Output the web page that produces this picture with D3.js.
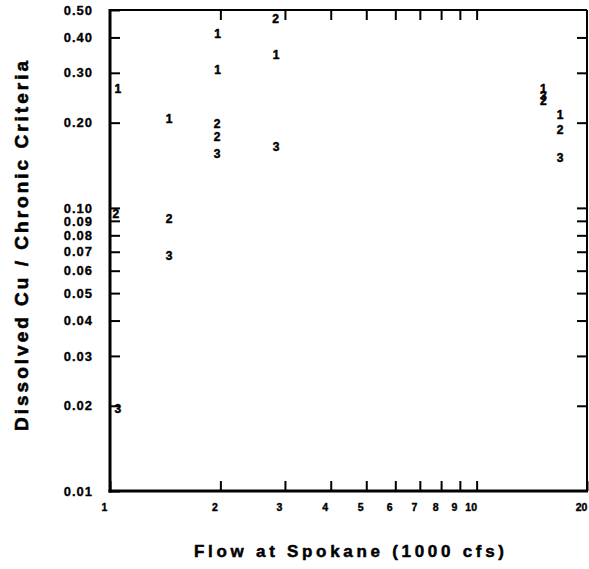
<!DOCTYPE html>
<html>
<head>
<meta charset="utf-8">
<script src="https://cdn.jsdelivr.net/npm/d3@7"></script>
<style>
  html, body { margin: 0; padding: 0; background: #fff; }
  svg { display: block; font-family: "Liberation Sans", Arial, sans-serif; }
</style>
</head>
<body>
<svg id="chart" width="589" height="569"></svg>
<script>
// Flow at Spokane (1000 cfs) and dissolved Cu / chronic criteria ratio, per station
const station1Flow  = [1.05, 1.45, 1.965, 1.965, 2.84, 15.2, 16.9];
const station1Ratio = [0.264, 0.206, 0.414, 0.307, 0.348, 0.263, 0.214];
const station2Flow  = [1.038, 1.45, 1.96, 1.96, 2.83, 15.2, 16.9];
const station2Ratio = [0.0955, 0.0916, 0.199, 0.178, 0.466, 0.239, 0.189];
const station3Flow  = [1.05, 1.45, 1.96, 2.84, 15.2, 16.9];
const station3Ratio = [0.0196, 0.0679, 0.155, 0.164, 0.25, 0.151];

const stationLabels = ["1", "2", "3"];

const xTickValues = [1, 2, 3, 4, 5, 6, 7, 8, 9, 10, 20];
const xTickLabels = ["1", "2", "3", "4", "5", "6", "7", "8", "9", "10", "20"];
const yTickValues = [0.01, 0.02, 0.03, 0.04, 0.05, 0.06, 0.07, 0.08, 0.09, 0.10, 0.20, 0.30, 0.40, 0.50];
const yTickLabels = ["0.01", "0.02", "0.03", "0.04", "0.05", "0.06", "0.07", "0.08", "0.09", "0.10", "0.20", "0.30", "0.40", "0.50"];

const xTitle = "Flow at Spokane (1000 cfs)";
const yTitle = "Dissolved Cu / Chronic Criteria";

const svg = d3.select("#chart");
const margin = { left: 110, right: 2, top: 10, bottom: 78 };
const W = 589, H = 569;
const x0 = margin.left, x1 = W - margin.right;
const y0 = margin.top, y1 = H - margin.bottom;

const x = d3.scaleLog().domain([1, 20]).range([x0, x1]);
const y = d3.scaleLog().domain([0.01, 0.5]).range([y1, y0]);

const tickLen = 10;

function styleAxis(g) {
  g.selectAll(".domain").remove();
  g.selectAll(".tick line").attr("stroke", "#000").attr("stroke-width", 2);
}

// Heavier lettering, like a pen plotter
function heavy(sel, w) {
  sel.attr("stroke", "#000").attr("stroke-width", w).attr("stroke-linejoin", "round");
}

// Bottom axis with labels
const xAxis = d3.axisBottom(x)
  .tickValues(xTickValues)
  .tickFormat((d, i) => xTickLabels[i])
  .tickSize(-tickLen)
  .tickSizeOuter(0)
  .tickPadding(13);
svg.append("g").attr("transform", `translate(0,${y1})`).call(xAxis).call(styleAxis)
  .call(g => g.selectAll(".tick text")
    .attr("dx", -6)
    .attr("font-size", 10.5)
    .attr("font-weight", "bold")
    .attr("fill", "#000")
    .call(heavy, 0.4));

// Top axis: ticks only
svg.append("g").attr("transform", `translate(0,${y0})`)
  .call(d3.axisTop(x).tickValues(xTickValues.slice(1, -1)).tickFormat("").tickSize(-tickLen).tickSizeOuter(0))
  .call(styleAxis);

// Left axis with labels
const yAxis = d3.axisLeft(y)
  .tickValues(yTickValues)
  .tickFormat((d, i) => yTickLabels[i])
  .tickSize(-tickLen)
  .tickSizeOuter(0)
  .tickPadding(17);
svg.append("g").attr("transform", `translate(${x0},0)`).call(yAxis).call(styleAxis)
  .call(g => g.selectAll(".tick text")
    .attr("font-size", 13)
    .attr("font-weight", "bold")
    .attr("letter-spacing", "1px")
    .attr("fill", "#000")
    .call(heavy, 0.3));

// Right axis: ticks only
svg.append("g").attr("transform", `translate(${x1},0)`)
  .call(d3.axisRight(y).tickValues(yTickValues.slice(1, -1)).tickFormat("").tickSize(-tickLen).tickSizeOuter(0))
  .call(styleAxis);

// Plot frame
svg.append("line").attr("x1", x0).attr("x2", x1).attr("y1", y0).attr("y2", y0)
  .attr("stroke", "#000").attr("stroke-width", 2);
svg.append("line").attr("x1", x1).attr("x2", x1).attr("y1", y0).attr("y2", y1)
  .attr("stroke", "#000").attr("stroke-width", 2);
svg.append("line").attr("x1", x0).attr("x2", x0).attr("y1", y0 - 1).attr("y2", y1 + 1.5)
  .attr("stroke", "#000").attr("stroke-width", 3);
svg.append("line").attr("x1", x0 - 1.5).attr("x2", x1 + 1).attr("y1", y1).attr("y2", y1)
  .attr("stroke", "#000").attr("stroke-width", 3);

// Data symbols: station numbers drawn at each point
const stations = [
  { label: stationLabels[0], flow: station1Flow, ratio: station1Ratio },
  { label: stationLabels[1], flow: station2Flow, ratio: station2Ratio },
  { label: stationLabels[2], flow: station3Flow, ratio: station3Ratio }
];
const pts = stations.flatMap(s => s.flow.map((f, i) => ({ label: s.label, flow: f, ratio: s.ratio[i] })));

svg.append("g").selectAll("text").data(pts).join("text")
  .attr("x", d => x(d.flow))
  .attr("y", d => y(d.ratio))
  .attr("dy", "0.36em")
  .attr("text-anchor", "middle")
  .attr("font-size", 12)
  .attr("font-weight", "bold")
  .attr("fill", "#000")
  .call(heavy, 0.5)
  .text(d => d.label);

// Axis titles
svg.append("text")
  .attr("x", 349).attr("y", 557)
  .attr("text-anchor", "middle")
  .attr("font-size", 17)
  .attr("font-weight", "bold")
  .attr("textLength", 310)
  .attr("lengthAdjust", "spacing")
  .call(heavy, 0.5)
  .text(xTitle);

svg.append("text")
  .attr("transform", "translate(28,246) rotate(-90)")
  .attr("text-anchor", "middle")
  .attr("font-size", 19)
  .attr("font-weight", "bold")
  .attr("textLength", 370)
  .attr("lengthAdjust", "spacing")
  .call(heavy, 0.6)
  .text(yTitle);
</script>
</body>
</html>
